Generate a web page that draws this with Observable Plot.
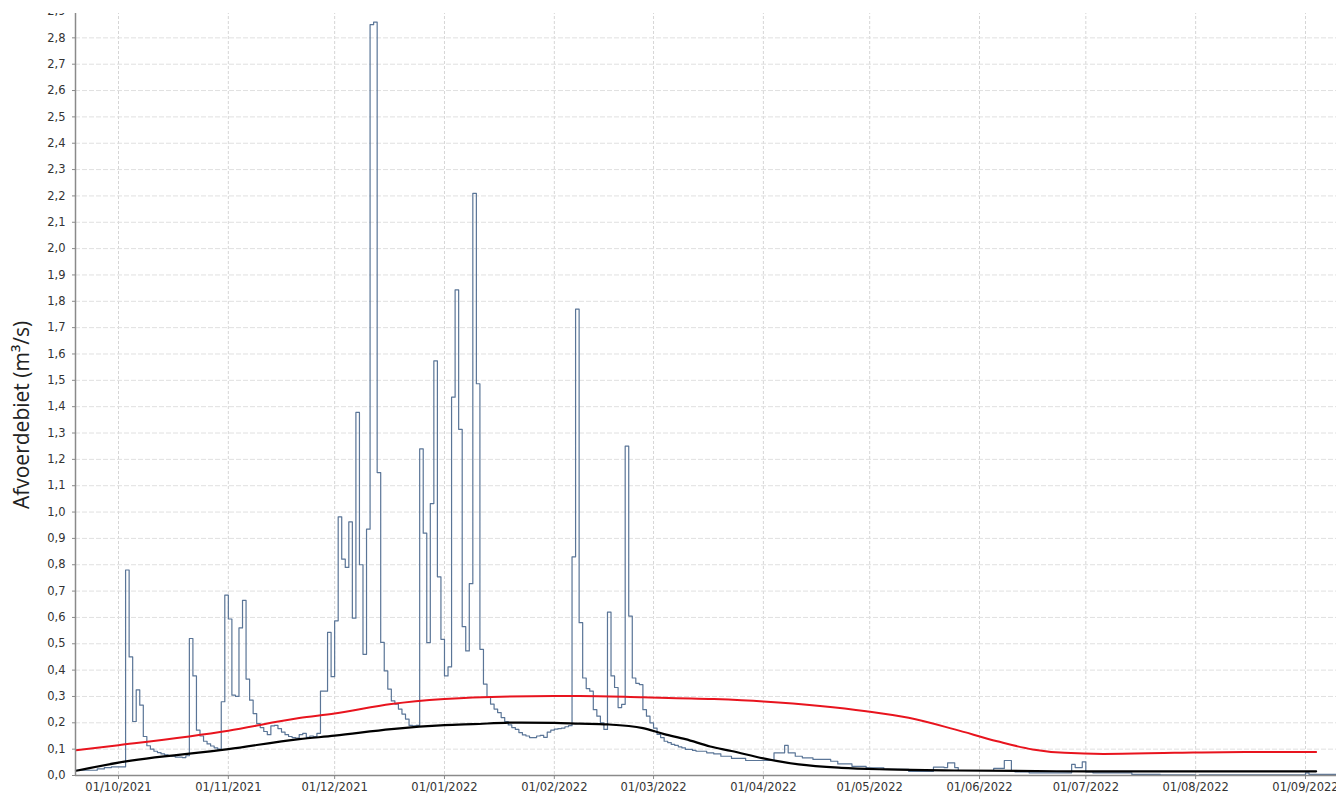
<!DOCTYPE html>
<html>
<head>
<meta charset="utf-8">
<script src="https://cdn.jsdelivr.net/npm/d3@7"></script>
<script src="https://cdn.jsdelivr.net/npm/@observablehq/plot@0.6"></script>
<style>
  html, body { margin: 0; padding: 0; background: #fff; }
  body { width: 1336px; height: 796px; position: relative; overflow: hidden; }
  #clip { position: absolute; left: 0; top: 13px; width: 1336px; height: 783px; overflow: hidden; }
  #chart svg { display: block; position: relative; top: -12px; }
  #ylabel { position: absolute; left: 21px; top: 415px; transform: translate(-50%, -50%) rotate(-90deg);
            font-family: "Open Sans", sans-serif; font-size: 21px; color: #222; white-space: nowrap; }
</style>
</head>
<body>
<div id="clip"><div id="chart"></div></div>
<div id="ylabel">Afvoerdebiet (m³/s)</div>
<script>
// Daily discharge (step series): dates where the value changes, and the values
const flowDates = [
"2021-09-19","2021-09-25","2021-09-27","2021-09-29",
"2021-10-03","2021-10-04","2021-10-05","2021-10-06","2021-10-07","2021-10-08","2021-10-09","2021-10-10",
"2021-10-11","2021-10-12","2021-10-13","2021-10-14","2021-10-15","2021-10-16","2021-10-17","2021-10-19",
"2021-10-20","2021-10-21","2021-10-22","2021-10-23","2021-10-24","2021-10-25","2021-10-26","2021-10-27",
"2021-10-28","2021-10-29","2021-10-30","2021-10-31",
"2021-11-01","2021-11-02","2021-11-03","2021-11-04","2021-11-05","2021-11-06","2021-11-07","2021-11-08",
"2021-11-09","2021-11-10","2021-11-11","2021-11-12","2021-11-13","2021-11-14","2021-11-15","2021-11-16",
"2021-11-17","2021-11-18","2021-11-19","2021-11-20","2021-11-21","2021-11-22","2021-11-23","2021-11-24",
"2021-11-25","2021-11-26","2021-11-27","2021-11-29","2021-11-30",
"2021-12-01","2021-12-02","2021-12-03","2021-12-04","2021-12-05","2021-12-06","2021-12-07","2021-12-08",
"2021-12-09","2021-12-10","2021-12-11","2021-12-12","2021-12-13","2021-12-14","2021-12-15","2021-12-16",
"2021-12-17","2021-12-18","2021-12-19","2021-12-20","2021-12-21","2021-12-22","2021-12-23","2021-12-24",
"2021-12-25","2021-12-26","2021-12-27","2021-12-28","2021-12-29","2021-12-30","2021-12-31",
"2022-01-01","2022-01-02","2022-01-03","2022-01-04","2022-01-05","2022-01-06","2022-01-07","2022-01-08",
"2022-01-09","2022-01-10","2022-01-11","2022-01-12","2022-01-13","2022-01-14","2022-01-15","2022-01-16",
"2022-01-17","2022-01-18","2022-01-19","2022-01-20","2022-01-21","2022-01-22","2022-01-23","2022-01-24",
"2022-01-25","2022-01-27","2022-01-28","2022-01-29","2022-01-30","2022-01-31",
"2022-02-01","2022-02-02","2022-02-03","2022-02-04","2022-02-05","2022-02-06","2022-02-07","2022-02-08",
"2022-02-09","2022-02-10","2022-02-11","2022-02-12","2022-02-13","2022-02-14","2022-02-15","2022-02-16",
"2022-02-17","2022-02-18","2022-02-19","2022-02-20","2022-02-21","2022-02-22","2022-02-23","2022-02-24",
"2022-02-25","2022-02-26","2022-02-27","2022-02-28",
"2022-03-01","2022-03-02","2022-03-03","2022-03-04","2022-03-05","2022-03-06","2022-03-07","2022-03-08",
"2022-03-09","2022-03-10","2022-03-12","2022-03-13","2022-03-16","2022-03-18","2022-03-20","2022-03-23",
"2022-03-27","2022-04-04","2022-04-07","2022-04-08","2022-04-10","2022-04-12","2022-04-15","2022-04-20",
"2022-04-22","2022-04-26","2022-04-30","2022-05-05","2022-05-12","2022-05-19","2022-05-22","2022-05-23",
"2022-05-25","2022-05-26","2022-06-05","2022-06-08","2022-06-10","2022-06-11","2022-06-15","2022-06-27",
"2022-06-28","2022-06-30","2022-07-01","2022-07-03","2022-07-14","2022-07-22","2022-08-01","2022-08-02",
"2022-09-01","2022-09-02","2022-09-10"
];
const flowValues = [
0.020,0.025,0.030,0.033,
0.780,0.450,0.205,0.325,0.267,0.148,0.113,0.100,
0.092,0.087,0.082,0.078,0.075,0.073,0.070,0.068,
0.075,0.520,0.378,0.172,0.150,0.130,0.120,0.112,
0.105,0.100,0.280,0.685,
0.594,0.305,0.300,0.560,0.665,0.366,0.286,0.235,
0.197,0.182,0.167,0.155,0.188,0.190,0.178,0.165,
0.155,0.148,0.144,0.142,0.155,0.160,0.145,0.150,
0.148,0.160,0.320,0.543,0.375,
0.587,0.982,0.821,0.790,0.963,0.597,1.378,0.800,
0.460,0.935,2.850,2.860,1.150,0.505,0.397,0.328,
0.283,0.271,0.252,0.233,0.214,0.190,0.188,0.190,
1.240,0.920,0.504,1.032,1.574,0.754,0.517,
0.378,0.412,1.436,1.843,1.314,0.565,0.473,0.728,
2.210,1.487,0.479,0.347,0.296,0.271,0.252,0.239,
0.220,0.205,0.192,0.182,0.175,0.163,0.154,0.150,
0.144,0.150,0.152,0.145,0.165,0.172,
0.176,0.178,0.180,0.185,0.189,0.830,1.770,0.580,
0.370,0.330,0.320,0.250,0.225,0.200,0.175,0.620,
0.378,0.334,0.258,0.270,1.250,0.605,0.370,0.350,
0.345,0.250,0.225,0.200,
0.180,0.156,0.144,0.130,0.125,0.118,0.114,0.109,
0.105,0.099,0.095,0.092,0.086,0.082,0.073,0.065,
0.057,0.086,0.114,0.086,0.073,0.067,0.061,0.054,
0.044,0.035,0.029,0.023,0.016,0.032,0.030,0.048,
0.030,0.019,0.027,0.057,0.019,0.014,0.010,0.042,
0.030,0.052,0.014,0.010,0.004,0.002,0.000,0.002,
0.010,0.004,0.004
];

// Red smooth line
const redDates = ["2021-09-19","2021-10-01","2021-11-01","2021-11-21","2021-12-01","2021-12-17","2022-01-01","2022-01-09",
  "2022-02-01","2022-02-08","2022-02-26","2022-03-18","2022-04-01","2022-04-17","2022-04-30","2022-05-12","2022-05-25",
  "2022-06-06","2022-06-16","2022-06-25","2022-07-06","2022-07-26","2022-08-15","2022-09-04"];
const redValues = [0.096,0.115,0.170,0.218,0.235,0.271,0.290,0.296,
  0.302,0.302,0.297,0.290,0.281,0.264,0.244,0.219,0.175,
  0.130,0.099,0.086,0.082,0.086,0.089,0.089];

// Black smooth line
const blackDates = ["2021-09-19","2021-10-01","2021-11-01","2021-11-21","2021-12-01","2021-12-17","2022-01-01","2022-01-09",
  "2022-01-22","2022-02-01","2022-02-08","2022-02-16","2022-02-26","2022-03-04","2022-03-10","2022-03-17","2022-03-23",
  "2022-04-01","2022-04-11","2022-04-23","2022-05-06","2022-05-25","2022-07-01","2022-09-04"];
const blackValues = [0.018,0.049,0.100,0.138,0.151,0.176,0.191,0.195,
  0.201,0.200,0.197,0.194,0.180,0.157,0.138,0.110,0.093,
  0.065,0.042,0.029,0.023,0.019,0.016,0.016];

// Axis ticks
const monthTicks = ["2021-10-01","2021-11-01","2021-12-01","2022-01-01","2022-02-01","2022-03-01",
  "2022-04-01","2022-05-01","2022-06-01","2022-07-01","2022-08-01","2022-09-01"];
const yTicks = [0,0.1,0.2,0.3,0.4,0.5,0.6,0.7,0.8,0.9,1.0,1.1,1.2,1.3,1.4,1.5,1.6,1.7,1.8,1.9,2.0,2.1,2.2,2.3,2.4,2.5,2.6,2.7,2.8,2.9];

const P = s => new Date(s + "T00:00:00Z");
const flow = flowDates.map((d, i) => ({date: P(d), value: flowValues[i]}));
const red = redDates.map((d, i) => ({date: P(d), value: redValues[i]}));
const black = blackDates.map((d, i) => ({date: P(d), value: blackValues[i]}));
const mTicks = monthTicks.map(P);
const xDomain = [new Date("2021-09-18T20:44:00Z"), new Date("2022-09-09T18:00:00Z")];

const fmtX = d3.utcFormat("%d/%m/%Y");
const fmtY = d => d.toFixed(1).replace(".", ",");

const chart = Plot.plot({
  width: 1336,
  height: 804,
  marginTop: 10,
  marginBottom: 30,
  marginLeft: 75,
  marginRight: 0,
  style: {fontFamily: "DejaVu Sans, sans-serif", fontSize: "11.5px", color: "#333", background: "#fff"},
  x: {type: "utc", domain: xDomain},
  y: {domain: [0, 2.9]},
  marks: [
    Plot.gridX(mTicks, {stroke: "#d6d6d6", strokeOpacity: 1, strokeDasharray: "3,2"}),
    Plot.gridY(yTicks, {stroke: "#e0e0e0", strokeOpacity: 1, strokeDasharray: "5,2"}),
    Plot.line(flow, {x: "date", y: "value", curve: "step-after", stroke: "#5a7597", strokeWidth: 1.2}),
    Plot.line(black, {x: "date", y: "value", curve: "monotone-x", stroke: "#000", strokeWidth: 2.2}),
    Plot.line(red, {x: "date", y: "value", curve: "monotone-x", stroke: "#e8141e", strokeWidth: 2}),
    Plot.ruleY([0], {stroke: "#8a8a8a", strokeWidth: 1.5}),
    Plot.ruleX([xDomain[0]], {stroke: "#8a8a8a", strokeWidth: 1.5}),
    Plot.axisX(mTicks, {tickFormat: fmtX, tickSize: 4, tickPadding: 3, stroke: "#8a8a8a", label: null, fill: "#333"}),
    Plot.axisY(yTicks, {tickFormat: fmtY, tickSize: 3, tickPadding: 7, stroke: "#8a8a8a", label: null, fill: "#333"})
  ]
});
document.getElementById("chart").appendChild(chart);
</script>
</body>
</html>
